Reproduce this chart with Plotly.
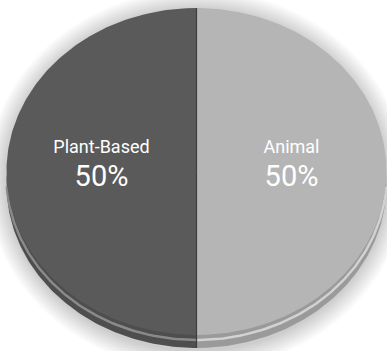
import numpy as np
import plotly.graph_objects as go

# Diet composition shares
categories = ["Animal", "Plant-Based"]
shares = [50, 50]

face_colors = ["#b5b5b5", "#5a5a5a"]
rim_colors = ["#9a9a9a", "#4e4e4e"]
rim_highlight = ["#d2d2d2", "#8a8a8a"]

W, H = 387, 351
CX, CY = 196.5, 171.5      # centre of the top face
RX, RY = 190.0, 163.5      # radii of the tilted face
DEPTH = 13.0               # thickness of the pie edge

FONT = "Liberation Sans Narrow, Arial Narrow, Roboto, sans-serif"


def ellipse_pt(theta_deg, rx=RX, ry=RY, cx=CX, cy=CY):
    t = np.radians(theta_deg)
    return cx + rx * np.sin(t), cy - ry * np.cos(t)


def wedge(a0, a1, dy=0.0, n=180):
    th = np.linspace(a0, a1, n)
    x, y = ellipse_pt(th)
    xs = np.concatenate([[CX], x, [CX]])
    ys = np.concatenate([[CY], y, [CY]]) + dy
    return xs, ys


fig = go.Figure()

# soft drop shadow behind the pie
full = np.linspace(0, 360, 361)
for k in range(10, 0, -1):
    grow = 2.0 * k
    x, y = ellipse_pt(full, RX + grow, RY + grow + DEPTH / 2, CX, CY + DEPTH / 2 + 2)
    fig.add_trace(go.Scatter(x=x, y=y, mode="lines", fill="toself",
                             fillcolor="rgba(0,0,0,0.018)", line=dict(width=0),
                             hoverinfo="skip", showlegend=False))

total = float(sum(shares))
bounds = np.concatenate([[0.0], np.cumsum(shares) / total * 360.0])

# edge (side wall) of each slice
for i, cat in enumerate(categories):
    a0, a1 = bounds[i], bounds[i + 1]
    xs, ys = wedge(a0, a1, dy=DEPTH)
    fig.add_trace(go.Scatter(x=xs, y=ys, mode="lines", fill="toself",
                             fillcolor=rim_colors[i], line=dict(width=0),
                             hoverinfo="skip", showlegend=False))
    # highlight stripe along the edge
    th = np.linspace(a0, a1, 180)
    hx, hy = ellipse_pt(th)
    keep = np.cos(np.radians(th)) < -0.05
    fig.add_trace(go.Scatter(x=hx[keep], y=hy[keep] + 5, mode="lines",
                             line=dict(color=rim_highlight[i], width=2.5),
                             hoverinfo="skip", showlegend=False))

# top faces
for i, cat in enumerate(categories):
    a0, a1 = bounds[i], bounds[i + 1]
    xs, ys = wedge(a0, a1)
    fig.add_trace(go.Scatter(x=xs, y=ys, mode="lines", fill="toself",
                             fillcolor=face_colors[i], line=dict(width=0),
                             name=cat, hoverinfo="name", showlegend=False))

# slice dividers
for a in bounds[:-1]:
    ex, ey = ellipse_pt(a)
    fig.add_trace(go.Scatter(x=[CX, ex, ex], y=[CY, ey, ey + (DEPTH if np.cos(np.radians(a)) < 0 else 0)],
                             mode="lines", line=dict(color="#3e3e3e", width=1.2),
                             hoverinfo="skip", showlegend=False))

# labels
for i, cat in enumerate(categories):
    mid = (bounds[i] + bounds[i + 1]) / 2
    lx, ly = ellipse_pt(mid, RX * 0.5, RY * 0.5)
    pct = f"{shares[i] / total * 100:.0f}%"
    fig.add_trace(go.Scatter(x=[lx], y=[ly - 23], mode="text", text=[cat],
                             textfont=dict(family=FONT, size=18, color="white"),
                             hoverinfo="skip", showlegend=False))
    fig.add_trace(go.Scatter(x=[lx], y=[ly + 7], mode="text", text=[pct],
                             textfont=dict(family=FONT, size=29, color="white"),
                             hoverinfo="skip", showlegend=False))

fig.update_xaxes(range=[0, W], visible=False, fixedrange=True)
fig.update_yaxes(range=[H, 0], visible=False, fixedrange=True)
fig.update_layout(width=W, height=H, margin=dict(l=0, r=0, t=0, b=0),
                  paper_bgcolor="white", plot_bgcolor="white", showlegend=False)

fig.write_html("out.html")
